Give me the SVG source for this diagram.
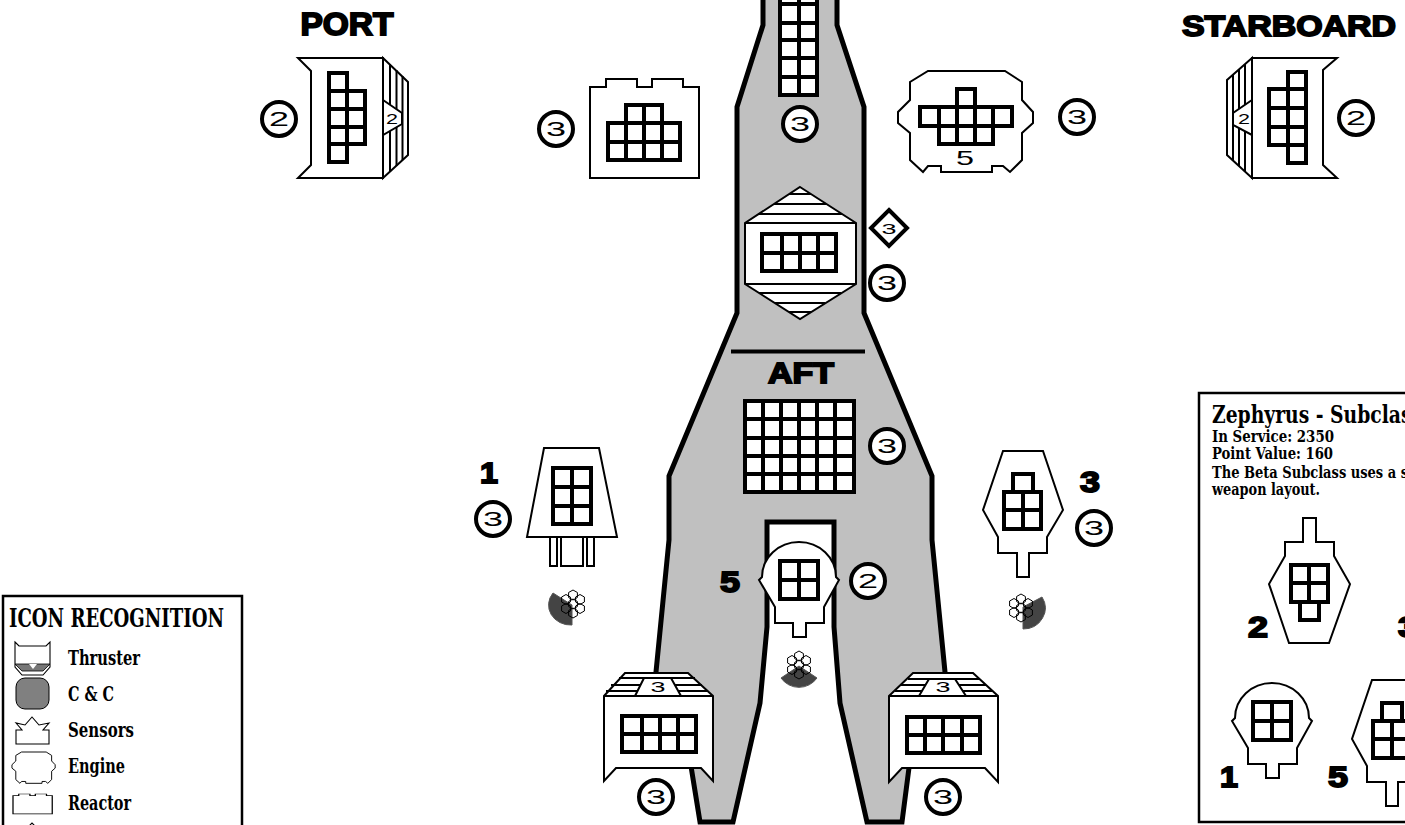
<svg xmlns="http://www.w3.org/2000/svg" xmlns:xlink="http://www.w3.org/1999/xlink" width="1405" height="825" viewBox="0 0 1405 825">
<style>
.o{fill:#fff;stroke:#000;stroke-width:2;stroke-linejoin:miter}
.h{fill:none;stroke:#000;stroke-width:2}
.g{fill:#fff;stroke:#000;stroke-width:4;stroke-linejoin:miter}
.c{fill:#fff;stroke:#000;stroke-width:4}
.n{font-family:"Liberation Sans",Arial,sans-serif;font-size:20px;text-anchor:middle;fill:#000}
.s{font-size:14px}
.b{font-family:"Liberation Sans",Arial,sans-serif;font-weight:bold;text-anchor:middle;fill:#000;stroke:#000;stroke-width:1.8;stroke-linejoin:miter}
.w{fill:#444;stroke:#555;stroke-width:1}
.f{fill:none;stroke:#000;stroke-width:1}
.t{font-family:"DejaVu Serif",serif;font-stretch:condensed;font-weight:bold;fill:#000}
.box{fill:#fff;stroke:#000;stroke-width:2.5}
.thin{vector-effect:non-scaling-stroke;stroke-width:1.1}
</style>
<defs>
<g id="flower" class="f">
<path id="hx" d="M0,-5L4.400,-2.500V2.500L0,5L-4.400,2.500V-2.500Z"/>
<use xlink:href="#hx" href="#hx" x="0" y="-9"/>
<use xlink:href="#hx" href="#hx" x="7" y="-4.500"/>
<use xlink:href="#hx" href="#hx" x="7" y="4.500"/>
<use xlink:href="#hx" href="#hx" x="0" y="9"/>
<use xlink:href="#hx" href="#hx" x="-7" y="4.500"/>
<use xlink:href="#hx" href="#hx" x="-7" y="-4.500"/>
</g>
<path id="eng" d="M928,71H1005L1022,82V100L1033,112V123L1022,133V160L1010,172L1003,166H992V172H941V166H928L923,172L910,160V133L898,123V112L910,100V82Z"/>
<path id="rea" d="M590,87H606V79H637V87H652V79H683V87H699V178H590Z"/>
<g id="ship3">
<path class="o" d="M1003,451H1043L1063,510L1047,537V553H1029V577H1017V553H998V537L983,510Z"/>
<path class="g" d="M1013,474H1033V492H1013Z M1004,492H1041V529H1004Z M1023,492V529 M1004,510H1041"/>
</g>
<g id="ship5">
<path class="o" d="M759,580L762,577A37,35 0 0 1 836,577L839,580L824,607V623H806V637H793V623H775V607Z"/>
<path class="g" d="M780,561H818V599H780Z M799,561V599 M780,580H818"/>
</g>
</defs>

<g id="hull">
<path d="M763,-6V25L737,107V313L669,476V540L656,672L690,760L700,822H733L760,703L767,627V522H834V627L840,703L867,822H902L910,760L945,672L932,540V476L864,313V107L837,25V-6Z" fill="#c0c0c0" stroke="#000" stroke-width="5" stroke-linejoin="miter"/>
<path d="M731,351.500H865" stroke="#000" stroke-width="4"/>
<text class="b" x="801" y="382.500" font-size="29" textLength="66" lengthAdjust="spacingAndGlyphs">AFT</text>
</g>

<g id="label-port"><text class="b" x="347" y="34.500" font-size="31" textLength="93" lengthAdjust="spacingAndGlyphs">PORT</text></g>
<g id="label-starboard"><text class="b" x="1289" y="35.500" font-size="30" textLength="214" lengthAdjust="spacingAndGlyphs">STARBOARD</text></g>

<g id="port-thruster">
<path class="o" d="M383,58L408,82V155L383,178Z"/>
<path class="h" d="M390,64V172M396.500,70V166M402.500,76V160"/>
<path class="o" d="M383,100L402,113V124L383,135Z"/>
<text class="n s" x="392" y="124" textLength="12" lengthAdjust="spacingAndGlyphs">2</text>
<path class="o" d="M298,58H383V178H298L311,165V71Z"/>
<path class="g" d="M329,73H347V162H329Z M347,91H365V144H347Z M329,91H347 M329,109H365 M329,127H365 M329,144H347"/>
<circle class="c" cx="279" cy="119" r="17"/>
<text class="n" x="279" y="126" textLength="20" lengthAdjust="spacingAndGlyphs">2</text>
</g>

<g id="reactor">
<use class="o" xlink:href="#rea" href="#rea"/>
<path class="g" d="M626,105H662V123H626Z M608,123H680V160H608Z M644,105V160 M626,123V160 M662,123V160 M608,142H680"/>
<circle class="c" cx="556" cy="129" r="17"/>
<text class="n" x="556" y="136" textLength="20" lengthAdjust="spacingAndGlyphs">3</text>
</g>

<g id="forward-weapon">
<path class="g" d="M780,-14H817V95H780Z M799,-14V95 M780,4H817 M780,23H817 M780,40H817 M780,58H817 M780,77H817"/>
<circle class="c" cx="800" cy="124" r="17"/>
<text class="n" x="800" y="131" textLength="20" lengthAdjust="spacingAndGlyphs">3</text>
</g>

<g id="engine">
<use class="o" xlink:href="#eng" href="#eng"/>
<path class="g" d="M957,89H975V107H957Z M920,107H1012V126H920Z M939,126H993V144H939Z M939,107V144 M957,107V144 M975,107V144 M993,107V144"/>
<text class="n" x="965" y="165" style="font-size:21px" textLength="18" lengthAdjust="spacingAndGlyphs">5</text>
<circle class="c" cx="1077" cy="117" r="17"/>
<text class="n" x="1077" y="124" textLength="20" lengthAdjust="spacingAndGlyphs">3</text>
</g>

<g id="sensor-hex">
<path class="o" d="M800,187L856,223V284L800,319L745,284V223Z"/>
<path class="h" d="M789,194H811M774,204H826M758,214H842M745,223H856M745,284H856M759,293H841M775,303H825M789,312H811"/>
<path class="g" d="M762,234H836V271H762Z M782,234V271 M800,234V271 M818,234V271 M762,253H836"/>
<path class="c" d="M889,210L907,228L889,246L871,228Z"/>
<text class="n s" x="889" y="234" textLength="15" lengthAdjust="spacingAndGlyphs">3</text>
<circle class="c" cx="887" cy="283" r="17"/>
<text class="n" x="887" y="290" textLength="20" lengthAdjust="spacingAndGlyphs">3</text>
</g>

<g id="aft-weapon">
<path class="g" d="M745,401H854V492H745Z M763,401V492 M781,401V492 M799,401V492 M817,401V492 M835,401V492 M745,419H854 M745,438H854 M745,456H854 M745,474H854"/>
<circle class="c" cx="887" cy="446" r="17"/>
<text class="n" x="887" y="453" textLength="20" lengthAdjust="spacingAndGlyphs">3</text>
</g>

<g id="fighter-1">
<path class="o" d="M550,537H557V566H550Z M587,537H594V566H587Z M561,537V566H583V537"/>
<path class="o" d="M544,448H599L617,537H527Z"/>
<path class="g" d="M553,468H591V524H553Z M572,468V524 M553,487H591 M553,506H591"/>
<text class="b" x="489" y="482.500" font-size="30" textLength="18" lengthAdjust="spacingAndGlyphs">1</text>
<circle class="c" cx="493" cy="519" r="17"/>
<text class="n" x="493" y="526" textLength="20" lengthAdjust="spacingAndGlyphs">3</text>
<path class="w" d="M572,605L553,593A22,20 0 0 0 572,625Z"/>
<use xlink:href="#flower" href="#flower" x="573" y="604"/>
</g>

<g id="fighter-3">
<use xlink:href="#ship3" href="#ship3"/>
<text class="b" x="1090" y="491.500" font-size="30" textLength="20" lengthAdjust="spacingAndGlyphs">3</text>
<circle class="c" cx="1094" cy="528" r="17"/>
<text class="n" x="1094" y="535" textLength="20" lengthAdjust="spacingAndGlyphs">3</text>
<path class="w" d="M1023,607L1042,597A22,21 0 0 1 1023,629Z"/>
<use xlink:href="#flower" href="#flower" x="1021" y="608"/>
</g>

<g id="fighter-5">
<use xlink:href="#ship5" href="#ship5"/>
<text class="b" x="730" y="591.500" font-size="30" textLength="20" lengthAdjust="spacingAndGlyphs">5</text>
<circle class="c" cx="868" cy="581" r="17"/>
<text class="n" x="868" y="588" textLength="20" lengthAdjust="spacingAndGlyphs">2</text>
<path class="w" d="M799,666L781,678A22,22 0 0 0 817,678Z"/>
<use xlink:href="#flower" href="#flower" x="799" y="665"/>
</g>

<g id="aft-thruster-port">
<path class="o" d="M604,696L625,673H688L713,696V781L701,768H616L604,781Z"/>
<path class="h" d="M604,696H713M619,678H695M611,685H702M606,691H708"/>
<path class="o" d="M635,696L644,678H671L681,696Z"/>
<text class="n s" x="658" y="692" textLength="15" lengthAdjust="spacingAndGlyphs">3</text>
<path class="g" d="M622,716H696V752H622Z M642,716V752 M660,716V752 M678,716V752 M622,734H696"/>
<circle class="c" cx="656" cy="797" r="17"/>
<text class="n" x="656" y="804" textLength="20" lengthAdjust="spacingAndGlyphs">3</text>
</g>

<g id="aft-thruster-starboard">
<path class="o" d="M889,696L913,673H973L998,696V782L985,768H902L889,782Z"/>
<path class="h" d="M889,696H998M908,679H979M901,685H986M895,691H992"/>
<path class="o" d="M919,696L929,679H955L966,696Z"/>
<text class="n s" x="943" y="692" textLength="15" lengthAdjust="spacingAndGlyphs">3</text>
<path class="g" d="M907,717H980V753H907Z M925,717V753 M943,717V753 M962,717V753 M907,735H980"/>
<circle class="c" cx="943" cy="797" r="17"/>
<text class="n" x="943" y="804" textLength="20" lengthAdjust="spacingAndGlyphs">3</text>
</g>

<g id="starboard-thruster">
<path class="o" d="M1252,58L1227,80V155L1252,178Z"/>
<path class="h" d="M1233,75V160M1239,69V166M1245,64V172"/>
<path class="o" d="M1252,100L1233,113V125L1252,135Z"/>
<text class="n s" x="1244" y="124" textLength="12" lengthAdjust="spacingAndGlyphs">2</text>
<path class="o" d="M1252,58H1337L1323,70V165L1337,178H1252Z"/>
<path class="g" d="M1288,72H1306V163H1288Z M1269,89H1288V145H1269Z M1288,89H1306 M1269,108H1306 M1269,127H1306 M1288,145H1306"/>
<circle class="c" cx="1356" cy="118" r="17"/>
<text class="n" x="1356" y="125" textLength="20" lengthAdjust="spacingAndGlyphs">2</text>
</g>

<g id="legend">
<rect class="box" x="3" y="596" width="239" height="240"/>
<text class="t" x="9" y="627" font-size="26" textLength="215" lengthAdjust="spacingAndGlyphs">ICON RECOGNITION</text>
<path class="o thin" d="M15,642L19,646H46L50,642V667L43,675H22L15,667Z"/>
<path d="M15,664H50L43,671H22Z" fill="#777" stroke="#000" stroke-width=".8"/>
<path d="M29,664H37L33,669Z" fill="#fff"/>
<text class="t" x="68" y="665" font-size="20" textLength="72" lengthAdjust="spacingAndGlyphs">Thruster</text>
<rect x="16" y="678" width="33" height="31" rx="9" fill="#808080" stroke="#000" stroke-width="1"/>
<text class="t" x="68" y="700.500" font-size="20" textLength="46" lengthAdjust="spacingAndGlyphs">C &amp; C</text>
<path class="o thin" d="M16,744H49V730H43L49,723L39,725L32,717L25,725L16,723L22,730H16Z"/>
<text class="t" x="68" y="737" font-size="20" textLength="66" lengthAdjust="spacingAndGlyphs">Sensors</text>
<use class="o" xlink:href="#eng" href="#eng" transform="translate(-275.400,730) scale(.32,.31)" style="stroke-width:3"/>
<text class="t" x="68" y="773" font-size="20" textLength="57" lengthAdjust="spacingAndGlyphs">Engine</text>
<use class="o" xlink:href="#rea" href="#rea" transform="translate(-199.400,778.200) scale(.36,.2)" style="stroke-width:3.500"/>
<text class="t" x="68" y="810" font-size="20" textLength="63" lengthAdjust="spacingAndGlyphs">Reactor</text>
<path class="o thin" d="M26,829L32,823L38,829Z"/>
</g>

<g id="info-card">
<rect class="box" x="1199" y="393" width="230" height="429"/>
<text class="t" x="1212" y="423" font-size="24" textLength="210" lengthAdjust="spacingAndGlyphs">Zephyrus - Subclass</text>
<text class="t" x="1212" y="442" font-size="16" textLength="122" lengthAdjust="spacingAndGlyphs">In Service: 2350</text>
<text class="t" x="1212" y="459" font-size="16" textLength="121" lengthAdjust="spacingAndGlyphs">Point Value: 160</text>
<text class="t" x="1212" y="478" font-size="16" textLength="196" lengthAdjust="spacingAndGlyphs">The Beta Subclass uses a s</text>
<text class="t" x="1212" y="495" font-size="16" textLength="108" lengthAdjust="spacingAndGlyphs">weapon layout.</text>
<path class="o" d="M1303,518H1316V542H1334V556L1350,584L1329,643H1289L1269,584L1285,556V542H1303Z"/>
<path class="g" d="M1291,565H1328V602H1291Z M1309,565V602 M1291,583H1328 M1300,602H1319V620H1300Z"/>
<text class="b" x="1258" y="636.500" font-size="30" textLength="20" lengthAdjust="spacingAndGlyphs">2</text>
<text class="b" x="1398" y="636.500" font-size="30" style="text-anchor:start" textLength="20" lengthAdjust="spacingAndGlyphs">3</text>
<use xlink:href="#ship5" href="#ship5" x="473" y="141"/>
<text class="b" x="1229" y="786.500" font-size="30" textLength="18" lengthAdjust="spacingAndGlyphs">1</text>
<use xlink:href="#ship3" href="#ship3" x="369" y="229"/>
<text class="b" x="1338" y="786.500" font-size="30" textLength="20" lengthAdjust="spacingAndGlyphs">5</text>
</g>
</svg>
